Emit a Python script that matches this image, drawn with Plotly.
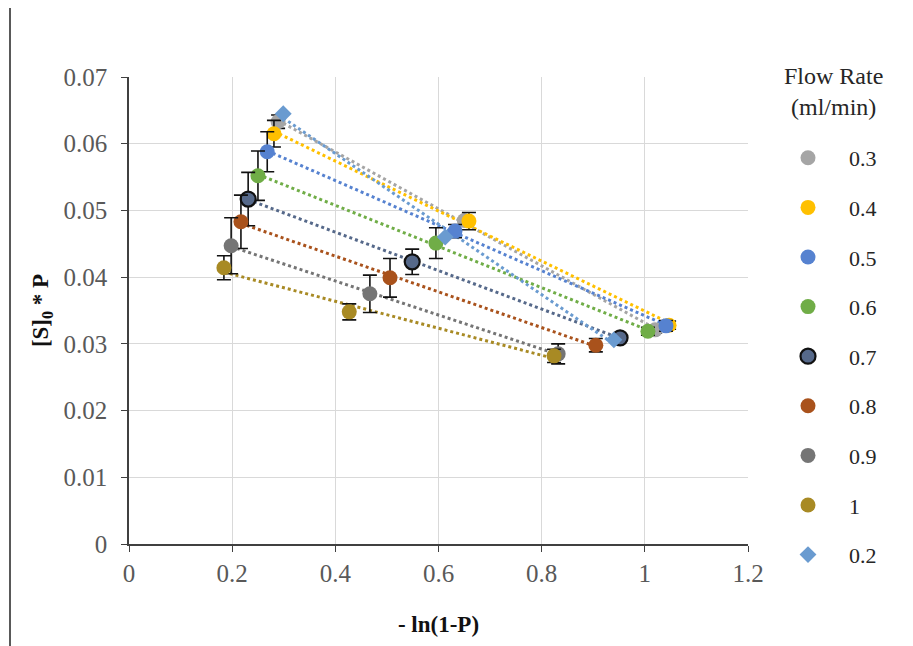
import numpy as np
import plotly.graph_objects as go

flow_rates = ["0.3", "0.4", "0.5", "0.6", "0.7", "0.8", "0.9", "1", "0.2"]

x_03 = [0.289, 0.650, 1.020]
y_03 = [0.0633, 0.0485, 0.0321]
e_03 = [0.0010, 0.0, 0.0005]

x_04 = [0.281, 0.659, 1.047]
y_04 = [0.0615, 0.0484, 0.0328]
e_04 = [0.0020, 0.0013, 0.0006]

x_05 = [0.268, 0.632, 1.041]
y_05 = [0.0588, 0.0469, 0.0327]
e_05 = [0.0030, 0.0010, 0.0008]

x_06 = [0.250, 0.595, 1.006]
y_06 = [0.0552, 0.0451, 0.0319]
e_06 = [0.0037, 0.0023, 0.0006]

x_07 = [0.231, 0.549, 0.952]
y_07 = [0.0517, 0.0423, 0.0309]
e_07 = [0.0040, 0.0019, 0.0005]

x_08 = [0.217, 0.506, 0.905]
y_08 = [0.0483, 0.0399, 0.0298]
e_08 = [0.0040, 0.0029, 0.0010]

x_09 = [0.198, 0.467, 0.832]
y_09 = [0.0447, 0.0375, 0.0285]
e_09 = [0.0042, 0.0028, 0.0015]

x_10 = [0.184, 0.427, 0.824]
y_10 = [0.0414, 0.0348, 0.0282]
e_10 = [0.0018, 0.0012, 0.0010]

x_02 = [0.299, 0.613, 0.940]
y_02 = [0.0645, 0.0460, 0.0306]

series_x = [x_03, x_04, x_05, x_06, x_07, x_08, x_09, x_10, x_02]
series_y = [y_03, y_04, y_05, y_06, y_07, y_08, y_09, y_10, y_02]
series_e = [e_03, e_04, e_05, e_06, e_07, e_08, e_09, e_10, None]

colors = ["#A5A5A5", "#FFC000", "#5682D0", "#70AD47", "#56698A",
          "#A9521C", "#757575", "#A88A24", "#6A9BD0"]
symbols = ["circle"] * 8 + ["diamond"]

FONT = "Liberation Serif"
fig = go.Figure()

# trendlines (linear fits), drawn behind markers
for name, xs, ys, c in zip(flow_rates, series_x, series_y, colors):
    k, b = np.polyfit(xs, ys, 1)
    xl = np.array([min(xs), max(xs)])
    fig.add_trace(go.Scatter(x=xl, y=k * xl + b, mode="lines",
                             line=dict(color=c, width=3, dash="dot"),
                             showlegend=False, hoverinfo="skip"))

for i, (name, xs, ys, es, c, s) in enumerate(zip(flow_rates, series_x, series_y,
                                                 series_e, colors, symbols)):
    marker = dict(color=c, size=15 if s == "circle" else 13, symbol=s)
    if name == "0.7":
        marker["line"] = dict(color="#111111", width=2.2)
    err = None
    if es is not None:
        err = dict(type="data", array=es, visible=True, color="#111111",
                   thickness=1.6, width=7)
    fig.add_trace(go.Scatter(x=xs, y=ys, mode="markers", name=name,
                             marker=marker, error_y=err,
                             legendgroup=f"g{i}"))

# page body has an 8px margin, so the figure is laid out shifted by -8px
L, T = 121, 69
PW, PH = 619, 467
fig.update_layout(
    width=913, height=646, autosize=False,
    margin=dict(l=L, r=913 - L - PW, t=T, b=646 - T - PH),
    paper_bgcolor="white", plot_bgcolor="white",
    font=dict(family=FONT, size=22, color="#595959"),
    showlegend=True,
    legend=dict(
        font=dict(family=FONT, size=22, color="#262626"),
        x=(759 - L) / PW, xanchor="left", y=1 - (129 - T) / PH, yanchor="top",
        traceorder="grouped", tracegroupgap=18, itemwidth=72,
        itemsizing="trace", bgcolor="rgba(0,0,0,0)",
        maxheight=640,
    ),
    xaxis=dict(range=[0, 1.2], dtick=0.2, tick0=0, showgrid=True,
               gridcolor="#D9D9D9", gridwidth=1.2, zeroline=False,
               showline=True, linecolor="#404040", linewidth=1.5,
               ticks="outside", ticklen=6, tickcolor="#404040",
               tickfont=dict(family=FONT, size=25, color="#595959"),
               title=dict(text="<b>- ln(1-P)</b>", standoff=30,
                          font=dict(family=FONT, size=23, color="#111111"))),
    yaxis=dict(range=[0, 0.07], dtick=0.01, tick0=0, showgrid=True,
               gridcolor="#D9D9D9", gridwidth=1.2, zeroline=False,
               showline=True, linecolor="#404040", linewidth=1.5,
               ticks="outside", ticklen=6, tickcolor="#404040",
               ticklabelstandoff=9,
               tickfont=dict(family=FONT, size=25, color="#595959"),
               title=dict(text="<b>[S]<sub>0</sub> * P</b>", standoff=8,
                          font=dict(family=FONT, size=23, color="#111111"))),
)

# legend title
fig.add_annotation(text="Flow Rate<br>(ml/min)", xref="paper", yref="paper",
                   x=(825 - L) / PW, y=1 - (83 - T) / PH, xanchor="center",
                   yanchor="middle", showarrow=False, align="center",
                   font=dict(family=FONT, size=24, color="#262626"))

# left chart border
bx = (2 - L) / PW
fig.add_shape(type="line", xref="paper", yref="paper",
              x0=bx, x1=bx, y0=-(646 - T - PH) / PH - 0.05, y1=1 + T / PH + 0.05,
              line=dict(color="#222222", width=1.5))

fig.write_html("out.html")
